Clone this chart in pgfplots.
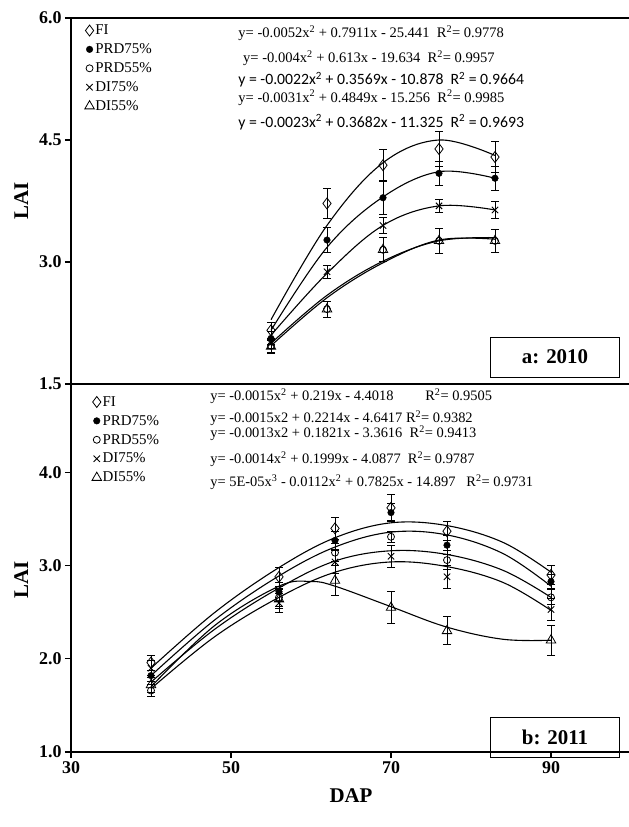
\documentclass[border=0pt]{standalone}
\usepackage{fontspec}
\setmainfont{Liberation Serif}
\newfontfamily\calib{Carlito}
\usepackage{pgfplots}
\usepackage{pgfplotstable}
\pgfplotsset{compat=1.18}

% ---- 2010 data: x y err ----
\pgfplotstableread{
x y e
55 2.16 0.10
62 3.72 0.18
69 4.19 0.19
76 4.39 0.21
83 4.29 0.19
}\aFI
\pgfplotstableread{
x y e
55 2.06 0.08
62 3.27 0.15
69 3.79 0.20
76 4.09 0.15
83 4.03 0.15
}\aPRDs
\pgfplotstableread{
x y e
55 1.97 0.08
62 2.42 0.10
69 3.15 0.15
76 3.26 0.15
83 3.26 0.14
}\aPRDf
\pgfplotstableread{
x y e
55 2.00 0.06
62 2.88 0.08
69 3.45 0.10
76 3.69 0.08
83 3.64 0.10
}\aDIs
\pgfplotstableread{
x y e
55 1.96 0.08
62 2.42 0.10
69 3.15 0.15
76 3.26 0.15
83 3.26 0.14
}\aDIf
% ---- 2011 data ----
\pgfplotstableread{
x y e
40 1.96 0.08
56 2.88 0.10
63 3.40 0.12
70 3.62 0.14
77 3.37 0.10
90 2.90 0.10
}\bFI
\pgfplotstableread{
x y e
40 1.82 0.06
56 2.72 0.10
63 3.27 0.10
70 3.57 0.10
77 3.22 0.10
90 2.83 0.08
}\bPRDs
\pgfplotstableread{
x y e
40 1.66 0.06
56 2.66 0.10
63 3.14 0.10
70 3.31 0.06
77 3.06 0.10
90 2.66 0.08
}\bPRDf
\pgfplotstableread{
x y e
40 1.90 0.08
56 2.60 0.10
63 3.04 0.12
70 3.10 0.12
77 2.88 0.12
90 2.53 0.12
}\bDIs
\pgfplotstableread{
x y e
40 1.72 0.08
56 2.64 0.10
63 2.84 0.16
70 2.55 0.17
77 2.30 0.15
90 2.20 0.16
}\bDIf

\pgfplotsset{
  panel/.style={
    scale only axis, width=560bp, anchor=south west,
    xmin=30, xmax=100, clip=false,
    axis lines=left, axis line style={line width=2bp,-},
    tick align=outside, major tick length=6bp,
    every tick/.style={line width=1.3bp,black},
    tick label style={font=\fontsize{18}{18}\selectfont\bfseries},
    label style={font=\fontsize{21}{21}\selectfont\bfseries},
    legend cell align=left,
    legend style={draw=none, fill=none, font=\fontsize{15}{15}\selectfont,
      anchor=north west, row sep=5.5bp, inner sep=0pt,
      nodes={inner sep=1pt}},
    legend image code/.code={\draw[##1] plot coordinates {(0.5em,0bp)};},
    error bars/y dir=both, error bars/y explicit,
    error bars/error bar style={line width=1bp,black},
    error bars/error mark options={rotate=90,mark size=4bp,line width=1bp,black},
  },
  fit/.style={smooth, tension=0.6, line width=1.1bp, black, no marks, forget plot},
  mFI/.style={only marks, mark=diamond, mark size=5.5bp, mark options={fill=white,line width=0.8bp,black}},
  mPRDs/.style={only marks, mark=*, mark size=3.3bp, mark options={fill=black,black}},
  mPRDf/.style={only marks, mark=o, mark size=3.5bp, mark options={fill=white,line width=0.8bp,black}},
  mDIs/.style={only marks, mark=x, mark size=4.5bp, mark options={line width=0.9bp,black}},
  mDIf/.style={only marks, mark=triangle, mark size=5.5bp, mark options={fill=white,line width=0.8bp,black}},
}

\begin{document}
\begin{tikzpicture}
\useasboundingbox (0,0) rectangle (629bp,827bp);

% ================= a: 2010 =================
\begin{axis}[panel, at={(71bp,443bp)}, height=366bp,
  ymin=1.5, ymax=6, ytick={1.5,3,4.5,6}, yticklabels={1.5,3.0,4.5,6.0},
  xtick=\empty, ylabel={LAI}, ylabel style={yshift=4bp},
  legend style={at={(axis cs:31.7,5.93)}}]
\addplot[fit] coordinates {(55,2.29) (62,3.45) (69,4.22) (76,4.50) (83,4.31)};
\addplot[fit] coordinates {(55,2.16) (62,3.18) (69,3.80) (76,4.11) (83,4.03)};
\addplot[fit] coordinates {(55,2.10) (62,2.86) (69,3.45) (76,3.69) (83,3.64)};
\addplot[fit] coordinates {(55,2.00) (62,2.59) (69,3.01) (76,3.26) (83,3.30)};
\addplot[fit] coordinates {(55,1.97) (62,2.56) (69,2.99) (76,3.27) (83,3.28)};
\addplot[mFI]   table[x=x,y=y,y error=e]{\aFI};
\addplot[mPRDs] table[x=x,y=y,y error=e]{\aPRDs};
\addplot[mPRDf] table[x=x,y=y,y error=e]{\aPRDf};
\addplot[mDIs]  table[x=x,y=y,y error=e]{\aDIs};
\addplot[mDIf]  table[x=x,y=y,y error=e]{\aDIf};
\legend{FI,PRD75\%,PRD55\%,DI75\%,DI55\%}
\draw[line width=2bp] (rel axis cs:0,1) -- (rel axis cs:1,1);
\begin{scope}[every node/.style={anchor=west, inner sep=0pt, font=\fontsize{14.6}{14.6}\selectfont}]
\node at (axis cs:50.9,5.815) {y= -0.0052x\textsuperscript{2} + 0.7911x - 25.441\ \ R\textsuperscript{2}= 0.9778};
\node at (axis cs:51.5,5.51) {y= -0.004x\textsuperscript{2} + 0.613x - 19.634\ \ R\textsuperscript{2}= 0.9957};
\node[font=\fontsize{15.8}{15.8}\calib] at (axis cs:50.9,5.24) {y = -0.0022x\textsuperscript{2} + 0.3569x - 10.878\ \ R\textsuperscript{2} = 0.9664};
\node at (axis cs:50.9,5.02) {y= -0.0031x\textsuperscript{2} + 0.4849x - 15.256\ \ R\textsuperscript{2}= 0.9985};
\node[font=\fontsize{15.8}{15.8}\calib] at (axis cs:50.9,4.72) {y = -0.0023x\textsuperscript{2} + 0.3682x - 11.325\ \ R\textsuperscript{2} = 0.9693};
\end{scope}
\node[draw, line width=0.9bp, minimum width=129bp, minimum height=40bp, font=\fontsize{21}{21}\selectfont\bfseries] at (axis cs:90.5,1.83) {a: 2010};
\end{axis}

% ================= b: 2011 =================
\begin{axis}[panel, at={(71bp,75bp)}, height=368bp,
  ymin=1, ymax=4.95, ytick={1,2,3,4}, yticklabels={1.0,2.0,3.0,4.0},
  xtick={30,50,70,90}, xticklabels={30,50,70,90},
  xlabel={DAP}, ylabel={LAI},
  xlabel style={yshift=-8bp}, ylabel style={yshift=4bp, xshift=-12bp},
  legend style={at={(axis cs:32.6,4.83)}}]
\addplot[fit] coordinates {(40,1.90) (48,2.50) (56,2.98) (63,3.30) (70,3.46) (77,3.43) (84,3.25) (90,2.93)};
\addplot[fit] coordinates {(40,1.82) (48,2.42) (56,2.89) (63,3.20) (70,3.36) (77,3.33) (84,3.13) (90,2.78)};
\addplot[fit] coordinates {(40,1.75) (48,2.32) (56,2.76) (63,3.05) (70,3.16) (77,3.12) (84,2.95) (90,2.66)};
\addplot[fit] coordinates {(40,1.68) (48,2.24) (56,2.66) (63,2.93) (70,3.04) (77,2.99) (84,2.82) (90,2.52)};
\addplot[fit] coordinates {(40,1.70) (48,2.36) (56,2.78) (60,2.83) (63,2.78) (70,2.56) (77,2.34) (84,2.21) (90,2.20)};
\addplot[mFI]   table[x=x,y=y,y error=e]{\bFI};
\addplot[mPRDs] table[x=x,y=y,y error=e]{\bPRDs};
\addplot[mPRDf] table[x=x,y=y,y error=e]{\bPRDf};
\addplot[mDIs]  table[x=x,y=y,y error=e]{\bDIs};
\addplot[mDIf]  table[x=x,y=y,y error=e]{\bDIf};
\legend{FI,PRD75\%,PRD55\%,DI75\%,DI55\%}
\begin{scope}[every node/.style={anchor=west, inner sep=0pt, font=\fontsize{14.5}{14.5}\selectfont}]
\node at (axis cs:47.4,4.82) {y= -0.0015x\textsuperscript{2} + 0.219x - 4.4018\hspace{2.2em}R\textsuperscript{2}= 0.9505};
\node at (axis cs:47.4,4.58) {y= -0.0015x2 + 0.2214x - 4.6417 R\textsuperscript{2}= 0.9382};
\node at (axis cs:47.4,4.42) {y= -0.0013x2 + 0.1821x - 3.3616\ \ R\textsuperscript{2}= 0.9413};
\node at (axis cs:47.4,4.14) {y= -0.0014x\textsuperscript{2} + 0.1999x - 4.0877\ \ R\textsuperscript{2}= 0.9787};
\node at (axis cs:47.4,3.90) {y= 5E-05x\textsuperscript{3} - 0.0112x\textsuperscript{2} + 0.7825x - 14.897\ \ \ R\textsuperscript{2}= 0.9731};
\end{scope}
\node[draw, line width=0.9bp, minimum width=129bp, minimum height=40bp, font=\fontsize{21}{21}\selectfont\bfseries] at (axis cs:90.5,1.16) {b: 2011};
\end{axis}
\end{tikzpicture}
\end{document}
